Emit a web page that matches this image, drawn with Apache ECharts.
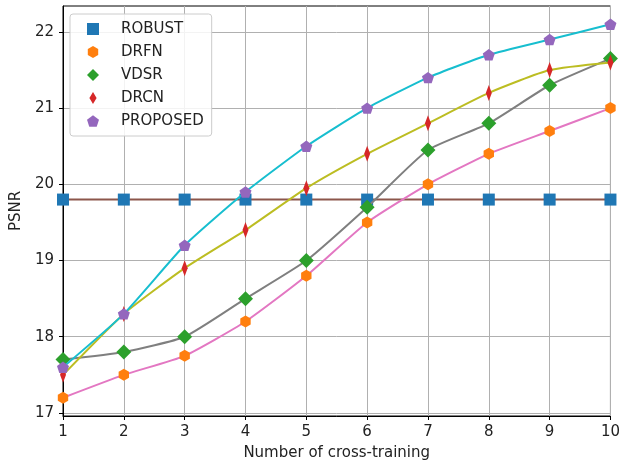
<!DOCTYPE html>
<html>
<head>
<meta charset="utf-8">
<script src="https://cdn.jsdelivr.net/npm/echarts@6/dist/echarts.min.js"></script>
<style>
    html, body { margin: 0; padding: 0; background: #fff; }
    #chart { width: 623px; height: 466px; }
</style>
</head>
<body>
<div id="chart"></div>
<script>
    // 横坐标
    const rounds = [1, 2, 3, 4, 5, 6, 7, 8, 9, 10];
    const yTicks = [17, 18, 19, 20, 21, 22];
    const names = ['ROBUST', 'DRFN', 'VDSR', 'DRCN', 'PROPOSED'];
    const robust = [19.8, 19.8, 19.8, 19.8, 19.8, 19.8, 19.8, 19.8, 19.8, 19.8];
    const drfn = [17.2, 17.5, 17.75, 18.2, 18.8, 19.5, 20.0, 20.4, 20.7, 21.0];
    const vdsr = [17.7, 17.8, 18.0, 18.5, 19.0, 19.7, 20.45, 20.8, 21.3, 21.65];
    const drcn = [17.5, 18.3, 18.9, 19.4, 19.95, 20.4, 20.8, 21.2, 21.5, 21.6];
    const proposed = [17.6, 18.3, 19.2, 19.9, 20.5, 21.0, 21.4, 21.7, 21.9, 22.1];

    const markColors = ['#1f77b4', '#ff7f0e', '#2ca02c', '#d62728', '#9467bd'];
    const lineColors = ['#8c564b', '#e377c2', '#7f7f7f', '#bcbd22', '#17becf'];
    const symbols = [
        'rect',
        'path://M0,-10 L8.66,-5 L8.66,5 L0,10 L-8.66,5 L-8.66,-5 Z',
        'diamond',
        'path://M0,-10 L6,0 L0,10 L-6,0 Z',
        'path://M0,-10 L9.51,-3.09 L5.88,8.09 L-5.88,8.09 L-9.51,-3.09 Z'
    ];
    const sizes = [[12, 12], [12, 12], [15, 15], [10, 16], [12, 12]];
    const legendSizes = [[12, 12], [12, 12], [14, 14], [9, 14], [12, 12]];
    const values = [robust, drfn, vdsr, drcn, proposed];

    const font = 'DejaVu Sans';
    const myChart = echarts.init(document.getElementById('chart'));

    const series = names.map(function (name, i) {
        return {
            name: name,
            type: 'line',
            data: rounds.map(function (x, k) { return [x, values[i][k]]; }),
            smooth: i === 0 ? false : 0.18,
            symbol: symbols[i],
            symbolSize: sizes[i],
            symbolKeepAspect: true,
            showAllSymbol: true,
            itemStyle: { color: markColors[i] },
            lineStyle: { color: lineColors[i], width: 2 },
            emphasis: { disabled: true },
            animation: false,
            z: 2 + i
        };
    });

    const option = {
        animation: false,
        textStyle: { fontFamily: font },
        grid: {
            left: 63, right: 9, top: 6, bottom: 50,
            show: true, borderColor: '#000', borderWidth: 1, backgroundColor: 'transparent'
        },
        legend: {
            orient: 'vertical',
            left: 70, top: 14,
            padding: [7, 8, 7, 17],
            itemGap: 7,
            itemWidth: 12, itemHeight: 12,
            backgroundColor: 'rgba(255,255,255,0.85)',
            borderColor: '#cccccc', borderWidth: 1, borderRadius: 3,
            textStyle: { fontFamily: font, fontSize: 15, lineHeight: 16, color: '#222', padding: [0, 0, 0, 17] },
            data: names.map(function (n, i) {
                return { name: n, icon: symbols[i], itemStyle: { color: markColors[i] } };
            })
        },
        xAxis: {
            type: 'value',
            min: 1, max: 10, interval: 1,
            name: 'Number of cross-training',
            nameLocation: 'middle', nameGap: 30,
            nameTextStyle: { fontFamily: font, fontSize: 15, color: '#222' },
            axisLine: { lineStyle: { color: '#000', width: 1 } },
            axisTick: { show: true, length: 4, lineStyle: { color: '#000' } },
            axisLabel: { fontFamily: font, fontSize: 15, color: '#222', margin: 9 },
            splitLine: { show: true, lineStyle: { color: '#b0b0b0', width: 1 } }
        },
        yAxis: {
            type: 'value',
            min: 16.96, max: 22.34,
            name: 'PSNR',
            nameLocation: 'middle', nameGap: 37,
            nameTextStyle: { fontFamily: font, fontSize: 15, color: '#222' },
            axisLine: { show: true, lineStyle: { color: '#000', width: 1 } },
            axisTick: { show: true, length: 4, customValues: yTicks, lineStyle: { color: '#000' } },
            axisLabel: { fontFamily: font, fontSize: 15, color: '#222', margin: 9, customValues: yTicks },
            splitLine: { show: true, lineStyle: { color: '#b0b0b0', width: 1 } }
        },
        series: series
    };
    myChart.setOption(option);
</script>
</body>
</html>
